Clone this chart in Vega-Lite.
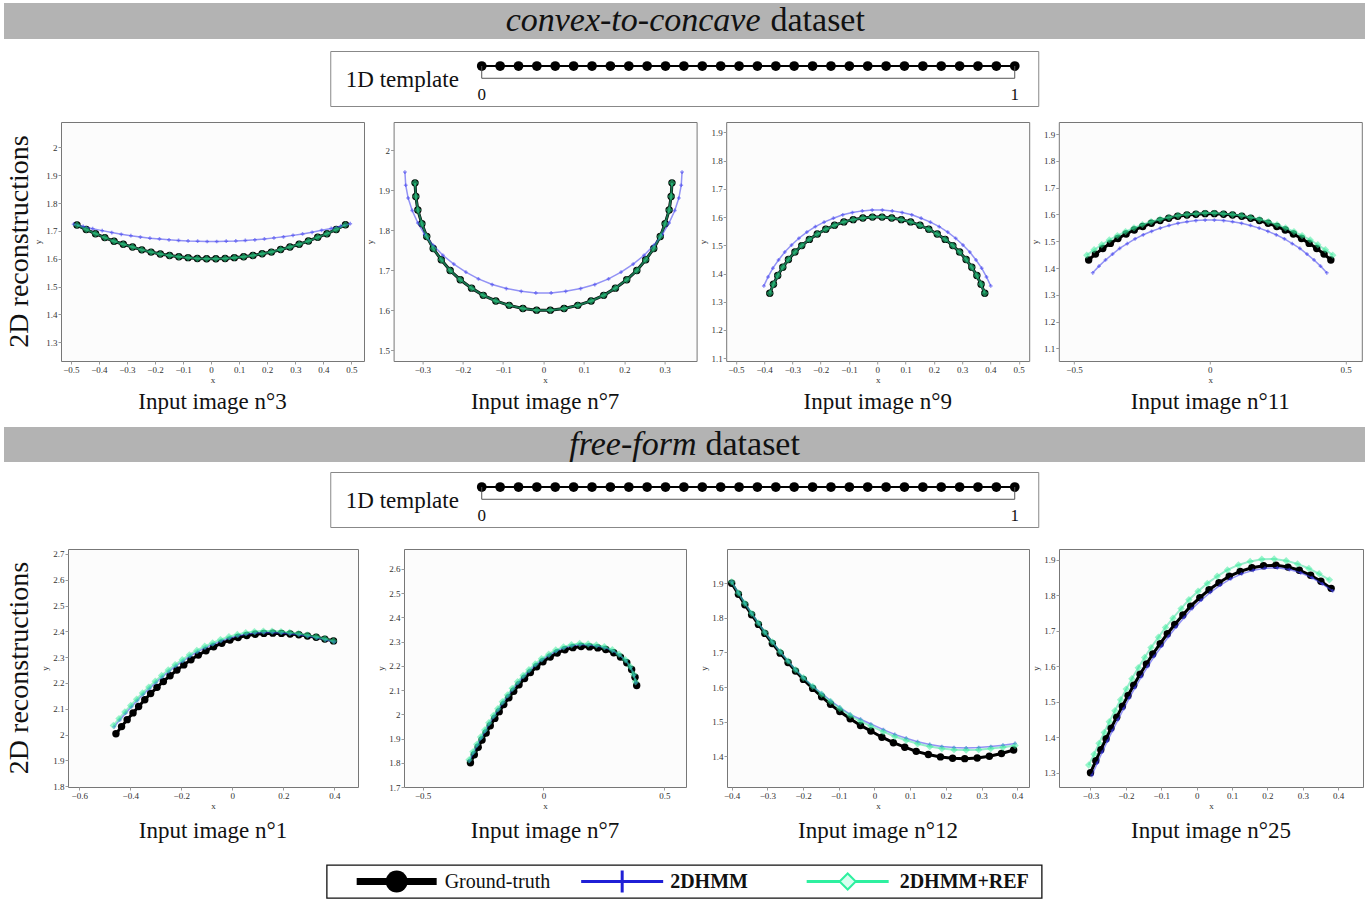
{
"$schema":"https://vega.github.io/schema/vega-lite/v6.json",
"padding":{"left":4,"top":3,"right":5,"bottom":5},
"autosize":{"type":"pad"},
"center":true,"spacing":20,
"config":{
 "font":"Liberation Serif",
 "view":{"stroke":null},
 "axis":{"labelFont":"Liberation Serif","labelFontSize":9,"labelColor":"#333","titleFont":"Liberation Serif","titleFontSize":9,"titleFontWeight":"normal","titleColor":"#333","domain":false,"tickColor":"#999","tickSize":3,"labelPadding":1,"titlePadding":0,"grid":false,"labelOverlap":false,"labelFlush":false,"format":".1~f"},
 "axisY":{"minExtent":19,"maxExtent":19},
 "axisX":{"minExtent":14,"maxExtent":14},
 "title":{"font":"Liberation Serif","fontSize":23,"fontWeight":"normal","color":"#111","orient":"bottom","anchor":"middle","frame":"group","offset":7},
 "text":{"font":"Liberation Serif","color":"#111"}
},
"datasets":{
"tpl":[{"t":0},{"t":0.0345},{"t":0.069},{"t":0.1034},{"t":0.1379},{"t":0.1724},{"t":0.2069},{"t":0.2414},{"t":0.2759},{"t":0.3103},{"t":0.3448},{"t":0.3793},{"t":0.4138},{"t":0.4483},{"t":0.4828},{"t":0.5172},{"t":0.5517},{"t":0.5862},{"t":0.6207},{"t":0.6552},{"t":0.6897},{"t":0.7241},{"t":0.7586},{"t":0.7931},{"t":0.8276},{"t":0.8621},{"t":0.8966},{"t":0.931},{"t":0.9655},{"t":1}],
"ends":[{"t":0},{"t":1}],
"A":[
{"s":"g","i":0,"x":-0.478,"y":1.721},{"s":"g","i":1,"x":-0.445,"y":1.705},{"s":"g","i":2,"x":-0.412,"y":1.690},{"s":"g","i":3,"x":-0.379,"y":1.676},{"s":"g","i":4,"x":-0.346,"y":1.663},{"s":"g","i":5,"x":-0.313,"y":1.652},{"s":"g","i":6,"x":-0.280,"y":1.642},{"s":"g","i":7,"x":-0.247,"y":1.632},{"s":"g","i":8,"x":-0.214,"y":1.624},{"s":"g","i":9,"x":-0.181,"y":1.617},{"s":"g","i":10,"x":-0.148,"y":1.612},{"s":"g","i":11,"x":-0.115,"y":1.607},{"s":"g","i":12,"x":-0.082,"y":1.604},{"s":"g","i":13,"x":-0.049,"y":1.601},{"s":"g","i":14,"x":-0.016,"y":1.600},{"s":"g","i":15,"x":0.017,"y":1.600},{"s":"g","i":16,"x":0.050,"y":1.601},{"s":"g","i":17,"x":0.083,"y":1.604},{"s":"g","i":18,"x":0.116,"y":1.607},{"s":"g","i":19,"x":0.149,"y":1.612},{"s":"g","i":20,"x":0.182,"y":1.618},{"s":"g","i":21,"x":0.215,"y":1.624},{"s":"g","i":22,"x":0.248,"y":1.633},{"s":"g","i":23,"x":0.281,"y":1.642},{"s":"g","i":24,"x":0.314,"y":1.652},{"s":"g","i":25,"x":0.347,"y":1.664},{"s":"g","i":26,"x":0.380,"y":1.677},{"s":"g","i":27,"x":0.413,"y":1.690},{"s":"g","i":28,"x":0.446,"y":1.705},{"s":"g","i":29,"x":0.479,"y":1.722},
{"s":"r","i":0,"x":-0.478,"y":1.721},{"s":"r","i":1,"x":-0.445,"y":1.705},{"s":"r","i":2,"x":-0.412,"y":1.690},{"s":"r","i":3,"x":-0.379,"y":1.676},{"s":"r","i":4,"x":-0.346,"y":1.663},{"s":"r","i":5,"x":-0.313,"y":1.652},{"s":"r","i":6,"x":-0.280,"y":1.642},{"s":"r","i":7,"x":-0.247,"y":1.632},{"s":"r","i":8,"x":-0.214,"y":1.624},{"s":"r","i":9,"x":-0.181,"y":1.617},{"s":"r","i":10,"x":-0.148,"y":1.612},{"s":"r","i":11,"x":-0.115,"y":1.607},{"s":"r","i":12,"x":-0.082,"y":1.604},{"s":"r","i":13,"x":-0.049,"y":1.601},{"s":"r","i":14,"x":-0.016,"y":1.600},{"s":"r","i":15,"x":0.017,"y":1.600},{"s":"r","i":16,"x":0.050,"y":1.601},{"s":"r","i":17,"x":0.083,"y":1.604},{"s":"r","i":18,"x":0.116,"y":1.607},{"s":"r","i":19,"x":0.149,"y":1.612},{"s":"r","i":20,"x":0.182,"y":1.618},{"s":"r","i":21,"x":0.215,"y":1.624},{"s":"r","i":22,"x":0.248,"y":1.633},{"s":"r","i":23,"x":0.281,"y":1.642},{"s":"r","i":24,"x":0.314,"y":1.652},{"s":"r","i":25,"x":0.347,"y":1.664},{"s":"r","i":26,"x":0.380,"y":1.677},{"s":"r","i":27,"x":0.413,"y":1.690},{"s":"r","i":28,"x":0.446,"y":1.705},{"s":"r","i":29,"x":0.479,"y":1.722},
{"s":"h","i":0,"x":-0.490,"y":1.724},{"s":"h","i":1,"x":-0.456,"y":1.716},{"s":"h","i":2,"x":-0.422,"y":1.708},{"s":"h","i":3,"x":-0.388,"y":1.701},{"s":"h","i":4,"x":-0.354,"y":1.694},{"s":"h","i":5,"x":-0.320,"y":1.688},{"s":"h","i":6,"x":-0.286,"y":1.683},{"s":"h","i":7,"x":-0.252,"y":1.678},{"s":"h","i":8,"x":-0.218,"y":1.674},{"s":"h","i":9,"x":-0.184,"y":1.671},{"s":"h","i":10,"x":-0.150,"y":1.668},{"s":"h","i":11,"x":-0.116,"y":1.666},{"s":"h","i":12,"x":-0.082,"y":1.664},{"s":"h","i":13,"x":-0.048,"y":1.663},{"s":"h","i":14,"x":-0.014,"y":1.662},{"s":"h","i":15,"x":0.020,"y":1.662},{"s":"h","i":16,"x":0.054,"y":1.663},{"s":"h","i":17,"x":0.088,"y":1.664},{"s":"h","i":18,"x":0.122,"y":1.666},{"s":"h","i":19,"x":0.156,"y":1.668},{"s":"h","i":20,"x":0.190,"y":1.671},{"s":"h","i":21,"x":0.224,"y":1.675},{"s":"h","i":22,"x":0.258,"y":1.679},{"s":"h","i":23,"x":0.292,"y":1.684},{"s":"h","i":24,"x":0.326,"y":1.689},{"s":"h","i":25,"x":0.360,"y":1.695},{"s":"h","i":26,"x":0.394,"y":1.702},{"s":"h","i":27,"x":0.428,"y":1.709},{"s":"h","i":28,"x":0.462,"y":1.717},{"s":"h","i":29,"x":0.496,"y":1.726}
],
"B":[
{"s":"g","i":0,"x":-0.318,"y":1.918},{"s":"g","i":1,"x":-0.316,"y":1.884},{"s":"g","i":2,"x":-0.311,"y":1.850},{"s":"g","i":3,"x":-0.301,"y":1.816},{"s":"g","i":4,"x":-0.289,"y":1.784},{"s":"g","i":5,"x":-0.273,"y":1.754},{"s":"g","i":6,"x":-0.253,"y":1.726},{"s":"g","i":7,"x":-0.231,"y":1.699},{"s":"g","i":8,"x":-0.206,"y":1.676},{"s":"g","i":9,"x":-0.178,"y":1.655},{"s":"g","i":10,"x":-0.149,"y":1.637},{"s":"g","i":11,"x":-0.118,"y":1.623},{"s":"g","i":12,"x":-0.085,"y":1.612},{"s":"g","i":13,"x":-0.051,"y":1.604},{"s":"g","i":14,"x":-0.017,"y":1.600},{"s":"g","i":15,"x":0.017,"y":1.600},{"s":"g","i":16,"x":0.051,"y":1.604},{"s":"g","i":17,"x":0.085,"y":1.612},{"s":"g","i":18,"x":0.118,"y":1.623},{"s":"g","i":19,"x":0.149,"y":1.637},{"s":"g","i":20,"x":0.178,"y":1.655},{"s":"g","i":21,"x":0.206,"y":1.676},{"s":"g","i":22,"x":0.231,"y":1.699},{"s":"g","i":23,"x":0.253,"y":1.726},{"s":"g","i":24,"x":0.273,"y":1.754},{"s":"g","i":25,"x":0.289,"y":1.784},{"s":"g","i":26,"x":0.301,"y":1.816},{"s":"g","i":27,"x":0.311,"y":1.850},{"s":"g","i":28,"x":0.316,"y":1.884},{"s":"g","i":29,"x":0.318,"y":1.918},
{"s":"r","i":0,"x":-0.318,"y":1.918},{"s":"r","i":1,"x":-0.316,"y":1.884},{"s":"r","i":2,"x":-0.311,"y":1.850},{"s":"r","i":3,"x":-0.301,"y":1.816},{"s":"r","i":4,"x":-0.289,"y":1.784},{"s":"r","i":5,"x":-0.273,"y":1.754},{"s":"r","i":6,"x":-0.253,"y":1.726},{"s":"r","i":7,"x":-0.231,"y":1.699},{"s":"r","i":8,"x":-0.206,"y":1.676},{"s":"r","i":9,"x":-0.178,"y":1.655},{"s":"r","i":10,"x":-0.149,"y":1.637},{"s":"r","i":11,"x":-0.118,"y":1.623},{"s":"r","i":12,"x":-0.085,"y":1.612},{"s":"r","i":13,"x":-0.051,"y":1.604},{"s":"r","i":14,"x":-0.017,"y":1.600},{"s":"r","i":15,"x":0.017,"y":1.600},{"s":"r","i":16,"x":0.051,"y":1.604},{"s":"r","i":17,"x":0.085,"y":1.612},{"s":"r","i":18,"x":0.118,"y":1.623},{"s":"r","i":19,"x":0.149,"y":1.637},{"s":"r","i":20,"x":0.178,"y":1.655},{"s":"r","i":21,"x":0.206,"y":1.676},{"s":"r","i":22,"x":0.231,"y":1.699},{"s":"r","i":23,"x":0.253,"y":1.726},{"s":"r","i":24,"x":0.273,"y":1.754},{"s":"r","i":25,"x":0.289,"y":1.784},{"s":"r","i":26,"x":0.301,"y":1.816},{"s":"r","i":27,"x":0.311,"y":1.850},{"s":"r","i":28,"x":0.316,"y":1.884},{"s":"r","i":29,"x":0.318,"y":1.918},
{"s":"h","i":0,"x":-0.343,"y":1.945},{"s":"h","i":1,"x":-0.341,"y":1.912},{"s":"h","i":2,"x":-0.335,"y":1.880},{"s":"h","i":3,"x":-0.325,"y":1.849},{"s":"h","i":4,"x":-0.311,"y":1.818},{"s":"h","i":5,"x":-0.294,"y":1.789},{"s":"h","i":6,"x":-0.273,"y":1.762},{"s":"h","i":7,"x":-0.249,"y":1.737},{"s":"h","i":8,"x":-0.222,"y":1.715},{"s":"h","i":9,"x":-0.192,"y":1.695},{"s":"h","i":10,"x":-0.161,"y":1.678},{"s":"h","i":11,"x":-0.127,"y":1.664},{"s":"h","i":12,"x":-0.092,"y":1.654},{"s":"h","i":13,"x":-0.055,"y":1.647},{"s":"h","i":14,"x":-0.019,"y":1.643},{"s":"h","i":15,"x":0.019,"y":1.643},{"s":"h","i":16,"x":0.055,"y":1.647},{"s":"h","i":17,"x":0.092,"y":1.654},{"s":"h","i":18,"x":0.127,"y":1.664},{"s":"h","i":19,"x":0.161,"y":1.678},{"s":"h","i":20,"x":0.192,"y":1.695},{"s":"h","i":21,"x":0.222,"y":1.715},{"s":"h","i":22,"x":0.249,"y":1.737},{"s":"h","i":23,"x":0.273,"y":1.762},{"s":"h","i":24,"x":0.294,"y":1.789},{"s":"h","i":25,"x":0.311,"y":1.818},{"s":"h","i":26,"x":0.325,"y":1.849},{"s":"h","i":27,"x":0.335,"y":1.880},{"s":"h","i":28,"x":0.341,"y":1.912},{"s":"h","i":29,"x":0.343,"y":1.945}
],
"C":[
{"s":"g","i":0,"x":-0.380,"y":1.330},{"s":"g","i":1,"x":-0.367,"y":1.362},{"s":"g","i":2,"x":-0.352,"y":1.393},{"s":"g","i":3,"x":-0.334,"y":1.422},{"s":"g","i":4,"x":-0.314,"y":1.450},{"s":"g","i":5,"x":-0.291,"y":1.476},{"s":"g","i":6,"x":-0.267,"y":1.499},{"s":"g","i":7,"x":-0.240,"y":1.521},{"s":"g","i":8,"x":-0.212,"y":1.540},{"s":"g","i":9,"x":-0.182,"y":1.557},{"s":"g","i":10,"x":-0.151,"y":1.571},{"s":"g","i":11,"x":-0.118,"y":1.583},{"s":"g","i":12,"x":-0.085,"y":1.591},{"s":"g","i":13,"x":-0.051,"y":1.597},{"s":"g","i":14,"x":-0.017,"y":1.600},{"s":"g","i":15,"x":0.017,"y":1.600},{"s":"g","i":16,"x":0.051,"y":1.597},{"s":"g","i":17,"x":0.085,"y":1.591},{"s":"g","i":18,"x":0.118,"y":1.583},{"s":"g","i":19,"x":0.151,"y":1.571},{"s":"g","i":20,"x":0.182,"y":1.557},{"s":"g","i":21,"x":0.212,"y":1.540},{"s":"g","i":22,"x":0.240,"y":1.521},{"s":"g","i":23,"x":0.267,"y":1.499},{"s":"g","i":24,"x":0.291,"y":1.476},{"s":"g","i":25,"x":0.314,"y":1.450},{"s":"g","i":26,"x":0.334,"y":1.422},{"s":"g","i":27,"x":0.352,"y":1.393},{"s":"g","i":28,"x":0.367,"y":1.362},{"s":"g","i":29,"x":0.380,"y":1.330},
{"s":"r","i":0,"x":-0.380,"y":1.330},{"s":"r","i":1,"x":-0.367,"y":1.362},{"s":"r","i":2,"x":-0.352,"y":1.393},{"s":"r","i":3,"x":-0.334,"y":1.422},{"s":"r","i":4,"x":-0.314,"y":1.450},{"s":"r","i":5,"x":-0.291,"y":1.476},{"s":"r","i":6,"x":-0.267,"y":1.499},{"s":"r","i":7,"x":-0.240,"y":1.521},{"s":"r","i":8,"x":-0.212,"y":1.540},{"s":"r","i":9,"x":-0.182,"y":1.557},{"s":"r","i":10,"x":-0.151,"y":1.571},{"s":"r","i":11,"x":-0.118,"y":1.583},{"s":"r","i":12,"x":-0.085,"y":1.591},{"s":"r","i":13,"x":-0.051,"y":1.597},{"s":"r","i":14,"x":-0.017,"y":1.600},{"s":"r","i":15,"x":0.017,"y":1.600},{"s":"r","i":16,"x":0.051,"y":1.597},{"s":"r","i":17,"x":0.085,"y":1.591},{"s":"r","i":18,"x":0.118,"y":1.583},{"s":"r","i":19,"x":0.151,"y":1.571},{"s":"r","i":20,"x":0.182,"y":1.557},{"s":"r","i":21,"x":0.212,"y":1.540},{"s":"r","i":22,"x":0.240,"y":1.521},{"s":"r","i":23,"x":0.267,"y":1.499},{"s":"r","i":24,"x":0.291,"y":1.476},{"s":"r","i":25,"x":0.314,"y":1.450},{"s":"r","i":26,"x":0.334,"y":1.422},{"s":"r","i":27,"x":0.352,"y":1.393},{"s":"r","i":28,"x":0.367,"y":1.362},{"s":"r","i":29,"x":0.380,"y":1.330},
{"s":"h","i":0,"x":-0.401,"y":1.356},{"s":"h","i":1,"x":-0.386,"y":1.388},{"s":"h","i":2,"x":-0.369,"y":1.419},{"s":"h","i":3,"x":-0.349,"y":1.448},{"s":"h","i":4,"x":-0.327,"y":1.476},{"s":"h","i":5,"x":-0.303,"y":1.501},{"s":"h","i":6,"x":-0.277,"y":1.525},{"s":"h","i":7,"x":-0.249,"y":1.547},{"s":"h","i":8,"x":-0.219,"y":1.566},{"s":"h","i":9,"x":-0.188,"y":1.582},{"s":"h","i":10,"x":-0.155,"y":1.596},{"s":"h","i":11,"x":-0.122,"y":1.608},{"s":"h","i":12,"x":-0.088,"y":1.616},{"s":"h","i":13,"x":-0.053,"y":1.622},{"s":"h","i":14,"x":-0.018,"y":1.625},{"s":"h","i":15,"x":0.018,"y":1.625},{"s":"h","i":16,"x":0.053,"y":1.622},{"s":"h","i":17,"x":0.088,"y":1.616},{"s":"h","i":18,"x":0.122,"y":1.608},{"s":"h","i":19,"x":0.155,"y":1.596},{"s":"h","i":20,"x":0.188,"y":1.582},{"s":"h","i":21,"x":0.219,"y":1.566},{"s":"h","i":22,"x":0.249,"y":1.547},{"s":"h","i":23,"x":0.277,"y":1.525},{"s":"h","i":24,"x":0.303,"y":1.501},{"s":"h","i":25,"x":0.327,"y":1.476},{"s":"h","i":26,"x":0.349,"y":1.448},{"s":"h","i":27,"x":0.369,"y":1.419},{"s":"h","i":28,"x":0.386,"y":1.388},{"s":"h","i":29,"x":0.401,"y":1.356}
],
"D":[
{"s":"g","i":0,"x":-0.446,"y":1.430},{"s":"g","i":1,"x":-0.421,"y":1.452},{"s":"g","i":2,"x":-0.394,"y":1.473},{"s":"g","i":3,"x":-0.366,"y":1.492},{"s":"g","i":4,"x":-0.338,"y":1.510},{"s":"g","i":5,"x":-0.308,"y":1.527},{"s":"g","i":6,"x":-0.278,"y":1.542},{"s":"g","i":7,"x":-0.247,"y":1.555},{"s":"g","i":8,"x":-0.215,"y":1.567},{"s":"g","i":9,"x":-0.183,"y":1.577},{"s":"g","i":10,"x":-0.151,"y":1.586},{"s":"g","i":11,"x":-0.118,"y":1.593},{"s":"g","i":12,"x":-0.084,"y":1.598},{"s":"g","i":13,"x":-0.051,"y":1.601},{"s":"g","i":14,"x":-0.017,"y":1.603},{"s":"g","i":15,"x":0.017,"y":1.603},{"s":"g","i":16,"x":0.051,"y":1.601},{"s":"g","i":17,"x":0.084,"y":1.598},{"s":"g","i":18,"x":0.118,"y":1.593},{"s":"g","i":19,"x":0.151,"y":1.586},{"s":"g","i":20,"x":0.183,"y":1.577},{"s":"g","i":21,"x":0.215,"y":1.567},{"s":"g","i":22,"x":0.247,"y":1.555},{"s":"g","i":23,"x":0.278,"y":1.542},{"s":"g","i":24,"x":0.308,"y":1.527},{"s":"g","i":25,"x":0.338,"y":1.510},{"s":"g","i":26,"x":0.366,"y":1.492},{"s":"g","i":27,"x":0.394,"y":1.473},{"s":"g","i":28,"x":0.421,"y":1.452},{"s":"g","i":29,"x":0.446,"y":1.430},
{"s":"r","i":0,"x":-0.453,"y":1.448},{"s":"r","i":1,"x":-0.426,"y":1.468},{"s":"r","i":2,"x":-0.398,"y":1.487},{"s":"r","i":3,"x":-0.370,"y":1.505},{"s":"r","i":4,"x":-0.340,"y":1.521},{"s":"r","i":5,"x":-0.310,"y":1.536},{"s":"r","i":6,"x":-0.279,"y":1.550},{"s":"r","i":7,"x":-0.248,"y":1.562},{"s":"r","i":8,"x":-0.216,"y":1.573},{"s":"r","i":9,"x":-0.183,"y":1.582},{"s":"r","i":10,"x":-0.150,"y":1.589},{"s":"r","i":11,"x":-0.117,"y":1.596},{"s":"r","i":12,"x":-0.084,"y":1.600},{"s":"r","i":13,"x":-0.050,"y":1.603},{"s":"r","i":14,"x":-0.017,"y":1.605},{"s":"r","i":15,"x":0.017,"y":1.605},{"s":"r","i":16,"x":0.050,"y":1.603},{"s":"r","i":17,"x":0.084,"y":1.600},{"s":"r","i":18,"x":0.117,"y":1.596},{"s":"r","i":19,"x":0.150,"y":1.589},{"s":"r","i":20,"x":0.183,"y":1.582},{"s":"r","i":21,"x":0.216,"y":1.573},{"s":"r","i":22,"x":0.248,"y":1.562},{"s":"r","i":23,"x":0.279,"y":1.550},{"s":"r","i":24,"x":0.310,"y":1.536},{"s":"r","i":25,"x":0.340,"y":1.521},{"s":"r","i":26,"x":0.370,"y":1.505},{"s":"r","i":27,"x":0.398,"y":1.487},{"s":"r","i":28,"x":0.426,"y":1.468},{"s":"r","i":29,"x":0.453,"y":1.448},
{"s":"h","i":0,"x":-0.431,"y":1.382},{"s":"h","i":1,"x":-0.408,"y":1.407},{"s":"h","i":2,"x":-0.384,"y":1.430},{"s":"h","i":3,"x":-0.358,"y":1.452},{"s":"h","i":4,"x":-0.332,"y":1.473},{"s":"h","i":5,"x":-0.304,"y":1.491},{"s":"h","i":6,"x":-0.275,"y":1.509},{"s":"h","i":7,"x":-0.245,"y":1.524},{"s":"h","i":8,"x":-0.214,"y":1.537},{"s":"h","i":9,"x":-0.182,"y":1.549},{"s":"h","i":10,"x":-0.150,"y":1.559},{"s":"h","i":11,"x":-0.117,"y":1.567},{"s":"h","i":12,"x":-0.084,"y":1.573},{"s":"h","i":13,"x":-0.051,"y":1.577},{"s":"h","i":14,"x":-0.017,"y":1.579},{"s":"h","i":15,"x":0.017,"y":1.579},{"s":"h","i":16,"x":0.051,"y":1.577},{"s":"h","i":17,"x":0.084,"y":1.573},{"s":"h","i":18,"x":0.117,"y":1.567},{"s":"h","i":19,"x":0.150,"y":1.559},{"s":"h","i":20,"x":0.182,"y":1.549},{"s":"h","i":21,"x":0.214,"y":1.537},{"s":"h","i":22,"x":0.245,"y":1.524},{"s":"h","i":23,"x":0.275,"y":1.509},{"s":"h","i":24,"x":0.304,"y":1.491},{"s":"h","i":25,"x":0.332,"y":1.473},{"s":"h","i":26,"x":0.358,"y":1.452},{"s":"h","i":27,"x":0.384,"y":1.430},{"s":"h","i":28,"x":0.408,"y":1.407},{"s":"h","i":29,"x":0.431,"y":1.382}
],
"E":[
{"s":"g","i":0,"x":-0.456,"y":2.003},{"s":"g","i":1,"x":-0.434,"y":2.031},{"s":"g","i":2,"x":-0.412,"y":2.058},{"s":"g","i":3,"x":-0.389,"y":2.084},{"s":"g","i":4,"x":-0.367,"y":2.109},{"s":"g","i":5,"x":-0.343,"y":2.135},{"s":"g","i":6,"x":-0.320,"y":2.159},{"s":"g","i":7,"x":-0.295,"y":2.183},{"s":"g","i":8,"x":-0.270,"y":2.206},{"s":"g","i":9,"x":-0.244,"y":2.228},{"s":"g","i":10,"x":-0.217,"y":2.250},{"s":"g","i":11,"x":-0.190,"y":2.270},{"s":"g","i":12,"x":-0.162,"y":2.290},{"s":"g","i":13,"x":-0.133,"y":2.308},{"s":"g","i":14,"x":-0.103,"y":2.325},{"s":"g","i":15,"x":-0.073,"y":2.340},{"s":"g","i":16,"x":-0.041,"y":2.354},{"s":"g","i":17,"x":-0.009,"y":2.366},{"s":"g","i":18,"x":0.023,"y":2.376},{"s":"g","i":19,"x":0.057,"y":2.384},{"s":"g","i":20,"x":0.090,"y":2.389},{"s":"g","i":21,"x":0.124,"y":2.392},{"s":"g","i":22,"x":0.159,"y":2.393},{"s":"g","i":23,"x":0.193,"y":2.392},{"s":"g","i":24,"x":0.227,"y":2.390},{"s":"g","i":25,"x":0.261,"y":2.387},{"s":"g","i":26,"x":0.295,"y":2.382},{"s":"g","i":27,"x":0.329,"y":2.377},{"s":"g","i":28,"x":0.363,"y":2.370},{"s":"g","i":29,"x":0.397,"y":2.363},
{"s":"r","i":0,"x":-0.466,"y":2.035},{"s":"r","i":1,"x":-0.444,"y":2.062},{"s":"r","i":2,"x":-0.421,"y":2.088},{"s":"r","i":3,"x":-0.398,"y":2.113},{"s":"r","i":4,"x":-0.375,"y":2.137},{"s":"r","i":5,"x":-0.352,"y":2.161},{"s":"r","i":6,"x":-0.327,"y":2.184},{"s":"r","i":7,"x":-0.302,"y":2.207},{"s":"r","i":8,"x":-0.277,"y":2.229},{"s":"r","i":9,"x":-0.251,"y":2.250},{"s":"r","i":10,"x":-0.224,"y":2.271},{"s":"r","i":11,"x":-0.196,"y":2.290},{"s":"r","i":12,"x":-0.168,"y":2.309},{"s":"r","i":13,"x":-0.139,"y":2.326},{"s":"r","i":14,"x":-0.108,"y":2.342},{"s":"r","i":15,"x":-0.077,"y":2.355},{"s":"r","i":16,"x":-0.046,"y":2.368},{"s":"r","i":17,"x":-0.013,"y":2.379},{"s":"r","i":18,"x":0.020,"y":2.388},{"s":"r","i":19,"x":0.053,"y":2.395},{"s":"r","i":20,"x":0.087,"y":2.399},{"s":"r","i":21,"x":0.122,"y":2.401},{"s":"r","i":22,"x":0.156,"y":2.401},{"s":"r","i":23,"x":0.191,"y":2.399},{"s":"r","i":24,"x":0.225,"y":2.396},{"s":"r","i":25,"x":0.260,"y":2.392},{"s":"r","i":26,"x":0.294,"y":2.386},{"s":"r","i":27,"x":0.329,"y":2.379},{"s":"r","i":28,"x":0.363,"y":2.371},{"s":"r","i":29,"x":0.397,"y":2.363},
{"s":"h","i":0,"x":-0.463,"y":2.030},{"s":"h","i":1,"x":-0.441,"y":2.057},{"s":"h","i":2,"x":-0.418,"y":2.083},{"s":"h","i":3,"x":-0.395,"y":2.108},{"s":"h","i":4,"x":-0.372,"y":2.132},{"s":"h","i":5,"x":-0.349,"y":2.156},{"s":"h","i":6,"x":-0.324,"y":2.179},{"s":"h","i":7,"x":-0.299,"y":2.202},{"s":"h","i":8,"x":-0.274,"y":2.224},{"s":"h","i":9,"x":-0.248,"y":2.245},{"s":"h","i":10,"x":-0.221,"y":2.266},{"s":"h","i":11,"x":-0.193,"y":2.285},{"s":"h","i":12,"x":-0.165,"y":2.304},{"s":"h","i":13,"x":-0.136,"y":2.321},{"s":"h","i":14,"x":-0.105,"y":2.337},{"s":"h","i":15,"x":-0.074,"y":2.350},{"s":"h","i":16,"x":-0.043,"y":2.363},{"s":"h","i":17,"x":-0.010,"y":2.374},{"s":"h","i":18,"x":0.023,"y":2.383},{"s":"h","i":19,"x":0.056,"y":2.390},{"s":"h","i":20,"x":0.090,"y":2.394},{"s":"h","i":21,"x":0.125,"y":2.396},{"s":"h","i":22,"x":0.159,"y":2.396},{"s":"h","i":23,"x":0.194,"y":2.394},{"s":"h","i":24,"x":0.228,"y":2.391},{"s":"h","i":25,"x":0.263,"y":2.387},{"s":"h","i":26,"x":0.297,"y":2.381},{"s":"h","i":27,"x":0.332,"y":2.375},{"s":"h","i":28,"x":0.366,"y":2.367},{"s":"h","i":29,"x":0.400,"y":2.359}
],
"F":[
{"s":"g","i":0,"x":-0.302,"y":1.800},{"s":"g","i":1,"x":-0.286,"y":1.833},{"s":"g","i":2,"x":-0.270,"y":1.864},{"s":"g","i":3,"x":-0.254,"y":1.894},{"s":"g","i":4,"x":-0.237,"y":1.923},{"s":"g","i":5,"x":-0.220,"y":1.953},{"s":"g","i":6,"x":-0.201,"y":1.983},{"s":"g","i":7,"x":-0.183,"y":2.011},{"s":"g","i":8,"x":-0.164,"y":2.040},{"s":"g","i":9,"x":-0.143,"y":2.068},{"s":"g","i":10,"x":-0.123,"y":2.095},{"s":"g","i":11,"x":-0.101,"y":2.122},{"s":"g","i":12,"x":-0.078,"y":2.148},{"s":"g","i":13,"x":-0.054,"y":2.172},{"s":"g","i":14,"x":-0.028,"y":2.196},{"s":"g","i":15,"x":-0.002,"y":2.217},{"s":"g","i":16,"x":0.028,"y":2.236},{"s":"g","i":17,"x":0.057,"y":2.253},{"s":"g","i":18,"x":0.089,"y":2.266},{"s":"g","i":19,"x":0.122,"y":2.275},{"s":"g","i":20,"x":0.156,"y":2.280},{"s":"g","i":21,"x":0.191,"y":2.278},{"s":"g","i":22,"x":0.225,"y":2.274},{"s":"g","i":23,"x":0.258,"y":2.267},{"s":"g","i":24,"x":0.291,"y":2.254},{"s":"g","i":25,"x":0.319,"y":2.236},{"s":"g","i":26,"x":0.345,"y":2.213},{"s":"g","i":27,"x":0.365,"y":2.185},{"s":"g","i":28,"x":0.379,"y":2.153},{"s":"g","i":29,"x":0.386,"y":2.119},
{"s":"r","i":0,"x":-0.308,"y":1.812},{"s":"r","i":1,"x":-0.292,"y":1.845},{"s":"r","i":2,"x":-0.276,"y":1.876},{"s":"r","i":3,"x":-0.260,"y":1.906},{"s":"r","i":4,"x":-0.243,"y":1.935},{"s":"r","i":5,"x":-0.226,"y":1.965},{"s":"r","i":6,"x":-0.207,"y":1.995},{"s":"r","i":7,"x":-0.189,"y":2.023},{"s":"r","i":8,"x":-0.170,"y":2.052},{"s":"r","i":9,"x":-0.149,"y":2.080},{"s":"r","i":10,"x":-0.129,"y":2.107},{"s":"r","i":11,"x":-0.107,"y":2.134},{"s":"r","i":12,"x":-0.084,"y":2.160},{"s":"r","i":13,"x":-0.060,"y":2.184},{"s":"r","i":14,"x":-0.034,"y":2.208},{"s":"r","i":15,"x":-0.008,"y":2.229},{"s":"r","i":16,"x":0.022,"y":2.248},{"s":"r","i":17,"x":0.051,"y":2.265},{"s":"r","i":18,"x":0.083,"y":2.278},{"s":"r","i":19,"x":0.116,"y":2.287},{"s":"r","i":20,"x":0.150,"y":2.292},{"s":"r","i":21,"x":0.185,"y":2.290},{"s":"r","i":22,"x":0.219,"y":2.286},{"s":"r","i":23,"x":0.252,"y":2.279},{"s":"r","i":24,"x":0.285,"y":2.266},{"s":"r","i":25,"x":0.313,"y":2.248},{"s":"r","i":26,"x":0.339,"y":2.225},{"s":"r","i":27,"x":0.359,"y":2.197},{"s":"r","i":28,"x":0.373,"y":2.165},{"s":"r","i":29,"x":0.381,"y":2.134},
{"s":"h","i":0,"x":-0.306,"y":1.808},{"s":"h","i":1,"x":-0.290,"y":1.841},{"s":"h","i":2,"x":-0.274,"y":1.872},{"s":"h","i":3,"x":-0.258,"y":1.902},{"s":"h","i":4,"x":-0.241,"y":1.931},{"s":"h","i":5,"x":-0.224,"y":1.961},{"s":"h","i":6,"x":-0.205,"y":1.991},{"s":"h","i":7,"x":-0.187,"y":2.019},{"s":"h","i":8,"x":-0.168,"y":2.048},{"s":"h","i":9,"x":-0.147,"y":2.076},{"s":"h","i":10,"x":-0.127,"y":2.103},{"s":"h","i":11,"x":-0.105,"y":2.130},{"s":"h","i":12,"x":-0.082,"y":2.156},{"s":"h","i":13,"x":-0.058,"y":2.180},{"s":"h","i":14,"x":-0.032,"y":2.204},{"s":"h","i":15,"x":-0.006,"y":2.225},{"s":"h","i":16,"x":0.024,"y":2.244},{"s":"h","i":17,"x":0.053,"y":2.261},{"s":"h","i":18,"x":0.085,"y":2.274},{"s":"h","i":19,"x":0.118,"y":2.283},{"s":"h","i":20,"x":0.152,"y":2.288},{"s":"h","i":21,"x":0.187,"y":2.286},{"s":"h","i":22,"x":0.221,"y":2.282},{"s":"h","i":23,"x":0.254,"y":2.275},{"s":"h","i":24,"x":0.287,"y":2.262},{"s":"h","i":25,"x":0.315,"y":2.244},{"s":"h","i":26,"x":0.341,"y":2.221},{"s":"h","i":27,"x":0.361,"y":2.193},{"s":"h","i":28,"x":0.375,"y":2.161},{"s":"h","i":29,"x":0.383,"y":2.130}
],
"G":[
{"s":"g","i":0,"x":-0.400,"y":1.900},{"s":"g","i":1,"x":-0.381,"y":1.868},{"s":"g","i":2,"x":-0.363,"y":1.838},{"s":"g","i":3,"x":-0.344,"y":1.809},{"s":"g","i":4,"x":-0.325,"y":1.781},{"s":"g","i":5,"x":-0.307,"y":1.755},{"s":"g","i":6,"x":-0.286,"y":1.726},{"s":"g","i":7,"x":-0.264,"y":1.698},{"s":"g","i":8,"x":-0.242,"y":1.671},{"s":"g","i":9,"x":-0.221,"y":1.646},{"s":"g","i":10,"x":-0.199,"y":1.622},{"s":"g","i":11,"x":-0.173,"y":1.596},{"s":"g","i":12,"x":-0.148,"y":1.572},{"s":"g","i":13,"x":-0.123,"y":1.550},{"s":"g","i":14,"x":-0.097,"y":1.529},{"s":"g","i":15,"x":-0.068,"y":1.508},{"s":"g","i":16,"x":-0.039,"y":1.489},{"s":"g","i":17,"x":-0.010,"y":1.473},{"s":"g","i":18,"x":0.021,"y":1.455},{"s":"g","i":19,"x":0.053,"y":1.439},{"s":"g","i":20,"x":0.085,"y":1.426},{"s":"g","i":21,"x":0.117,"y":1.414},{"s":"g","i":22,"x":0.151,"y":1.405},{"s":"g","i":23,"x":0.185,"y":1.398},{"s":"g","i":24,"x":0.219,"y":1.394},{"s":"g","i":25,"x":0.253,"y":1.393},{"s":"g","i":26,"x":0.288,"y":1.395},{"s":"g","i":27,"x":0.322,"y":1.400},{"s":"g","i":28,"x":0.356,"y":1.408},{"s":"g","i":29,"x":0.390,"y":1.418},
{"s":"r","i":0,"x":-0.400,"y":1.904},{"s":"r","i":1,"x":-0.381,"y":1.872},{"s":"r","i":2,"x":-0.363,"y":1.842},{"s":"r","i":3,"x":-0.344,"y":1.813},{"s":"r","i":4,"x":-0.325,"y":1.785},{"s":"r","i":5,"x":-0.307,"y":1.758},{"s":"r","i":6,"x":-0.286,"y":1.730},{"s":"r","i":7,"x":-0.264,"y":1.702},{"s":"r","i":8,"x":-0.242,"y":1.675},{"s":"r","i":9,"x":-0.221,"y":1.650},{"s":"r","i":10,"x":-0.199,"y":1.627},{"s":"r","i":11,"x":-0.173,"y":1.602},{"s":"r","i":12,"x":-0.148,"y":1.579},{"s":"r","i":13,"x":-0.123,"y":1.558},{"s":"r","i":14,"x":-0.097,"y":1.538},{"s":"r","i":15,"x":-0.068,"y":1.518},{"s":"r","i":16,"x":-0.039,"y":1.501},{"s":"r","i":17,"x":-0.010,"y":1.487},{"s":"r","i":18,"x":0.025,"y":1.471},{"s":"r","i":19,"x":0.057,"y":1.457},{"s":"r","i":20,"x":0.089,"y":1.446},{"s":"r","i":21,"x":0.121,"y":1.436},{"s":"r","i":22,"x":0.155,"y":1.428},{"s":"r","i":23,"x":0.189,"y":1.422},{"s":"r","i":24,"x":0.223,"y":1.419},{"s":"r","i":25,"x":0.257,"y":1.418},{"s":"r","i":26,"x":0.292,"y":1.419},{"s":"r","i":27,"x":0.326,"y":1.422},{"s":"r","i":28,"x":0.360,"y":1.426},{"s":"r","i":29,"x":0.394,"y":1.431},
{"s":"h","i":0,"x":-0.400,"y":1.904},{"s":"h","i":1,"x":-0.381,"y":1.872},{"s":"h","i":2,"x":-0.363,"y":1.842},{"s":"h","i":3,"x":-0.344,"y":1.813},{"s":"h","i":4,"x":-0.325,"y":1.785},{"s":"h","i":5,"x":-0.307,"y":1.758},{"s":"h","i":6,"x":-0.286,"y":1.730},{"s":"h","i":7,"x":-0.264,"y":1.702},{"s":"h","i":8,"x":-0.242,"y":1.675},{"s":"h","i":9,"x":-0.221,"y":1.650},{"s":"h","i":10,"x":-0.199,"y":1.627},{"s":"h","i":11,"x":-0.173,"y":1.602},{"s":"h","i":12,"x":-0.148,"y":1.582},{"s":"h","i":13,"x":-0.123,"y":1.561},{"s":"h","i":14,"x":-0.097,"y":1.541},{"s":"h","i":15,"x":-0.068,"y":1.521},{"s":"h","i":16,"x":-0.039,"y":1.507},{"s":"h","i":17,"x":-0.010,"y":1.493},{"s":"h","i":18,"x":0.025,"y":1.477},{"s":"h","i":19,"x":0.057,"y":1.463},{"s":"h","i":20,"x":0.089,"y":1.452},{"s":"h","i":21,"x":0.121,"y":1.442},{"s":"h","i":22,"x":0.155,"y":1.434},{"s":"h","i":23,"x":0.189,"y":1.428},{"s":"h","i":24,"x":0.223,"y":1.425},{"s":"h","i":25,"x":0.257,"y":1.424},{"s":"h","i":26,"x":0.292,"y":1.425},{"s":"h","i":27,"x":0.326,"y":1.428},{"s":"h","i":28,"x":0.360,"y":1.432},{"s":"h","i":29,"x":0.394,"y":1.437}
],
"H":[
{"s":"g","i":0,"x":-0.300,"y":1.300},{"s":"g","i":1,"x":-0.285,"y":1.334},{"s":"g","i":2,"x":-0.271,"y":1.365},{"s":"g","i":3,"x":-0.256,"y":1.396},{"s":"g","i":4,"x":-0.242,"y":1.426},{"s":"g","i":5,"x":-0.226,"y":1.457},{"s":"g","i":6,"x":-0.210,"y":1.488},{"s":"g","i":7,"x":-0.194,"y":1.518},{"s":"g","i":8,"x":-0.178,"y":1.547},{"s":"g","i":9,"x":-0.160,"y":1.578},{"s":"g","i":10,"x":-0.142,"y":1.607},{"s":"g","i":11,"x":-0.124,"y":1.635},{"s":"g","i":12,"x":-0.103,"y":1.664},{"s":"g","i":13,"x":-0.083,"y":1.692},{"s":"g","i":14,"x":-0.062,"y":1.718},{"s":"g","i":15,"x":-0.039,"y":1.745},{"s":"g","i":16,"x":-0.017,"y":1.770},{"s":"g","i":17,"x":0.009,"y":1.794},{"s":"g","i":18,"x":0.035,"y":1.816},{"s":"g","i":19,"x":0.063,"y":1.836},{"s":"g","i":20,"x":0.092,"y":1.854},{"s":"g","i":21,"x":0.123,"y":1.868},{"s":"g","i":22,"x":0.156,"y":1.878},{"s":"g","i":23,"x":0.189,"y":1.884},{"s":"g","i":24,"x":0.224,"y":1.885},{"s":"g","i":25,"x":0.258,"y":1.880},{"s":"g","i":26,"x":0.290,"y":1.871},{"s":"g","i":27,"x":0.322,"y":1.857},{"s":"g","i":28,"x":0.351,"y":1.840},{"s":"g","i":29,"x":0.380,"y":1.820},
{"s":"r","i":0,"x":-0.305,"y":1.322},{"s":"r","i":1,"x":-0.290,"y":1.352},{"s":"r","i":2,"x":-0.276,"y":1.383},{"s":"r","i":3,"x":-0.261,"y":1.414},{"s":"r","i":4,"x":-0.247,"y":1.444},{"s":"r","i":5,"x":-0.231,"y":1.475},{"s":"r","i":6,"x":-0.215,"y":1.506},{"s":"r","i":7,"x":-0.199,"y":1.536},{"s":"r","i":8,"x":-0.183,"y":1.565},{"s":"r","i":9,"x":-0.165,"y":1.596},{"s":"r","i":10,"x":-0.147,"y":1.625},{"s":"r","i":11,"x":-0.129,"y":1.653},{"s":"r","i":12,"x":-0.108,"y":1.682},{"s":"r","i":13,"x":-0.088,"y":1.710},{"s":"r","i":14,"x":-0.067,"y":1.736},{"s":"r","i":15,"x":-0.044,"y":1.763},{"s":"r","i":16,"x":-0.022,"y":1.788},{"s":"r","i":17,"x":0.004,"y":1.812},{"s":"r","i":18,"x":0.030,"y":1.834},{"s":"r","i":19,"x":0.058,"y":1.854},{"s":"r","i":20,"x":0.087,"y":1.872},{"s":"r","i":21,"x":0.118,"y":1.886},{"s":"r","i":22,"x":0.151,"y":1.896},{"s":"r","i":23,"x":0.184,"y":1.902},{"s":"r","i":24,"x":0.219,"y":1.903},{"s":"r","i":25,"x":0.253,"y":1.898},{"s":"r","i":26,"x":0.285,"y":1.889},{"s":"r","i":27,"x":0.317,"y":1.876},{"s":"r","i":28,"x":0.346,"y":1.861},{"s":"r","i":29,"x":0.375,"y":1.844},
{"s":"h","i":0,"x":-0.296,"y":1.293},{"s":"h","i":1,"x":-0.281,"y":1.327},{"s":"h","i":2,"x":-0.267,"y":1.358},{"s":"h","i":3,"x":-0.252,"y":1.389},{"s":"h","i":4,"x":-0.238,"y":1.419},{"s":"h","i":5,"x":-0.222,"y":1.450},{"s":"h","i":6,"x":-0.206,"y":1.481},{"s":"h","i":7,"x":-0.190,"y":1.511},{"s":"h","i":8,"x":-0.174,"y":1.540},{"s":"h","i":9,"x":-0.156,"y":1.571},{"s":"h","i":10,"x":-0.138,"y":1.600},{"s":"h","i":11,"x":-0.120,"y":1.628},{"s":"h","i":12,"x":-0.099,"y":1.657},{"s":"h","i":13,"x":-0.079,"y":1.685},{"s":"h","i":14,"x":-0.058,"y":1.711},{"s":"h","i":15,"x":-0.035,"y":1.738},{"s":"h","i":16,"x":-0.013,"y":1.763},{"s":"h","i":17,"x":0.013,"y":1.787},{"s":"h","i":18,"x":0.039,"y":1.809},{"s":"h","i":19,"x":0.067,"y":1.829},{"s":"h","i":20,"x":0.096,"y":1.847},{"s":"h","i":21,"x":0.127,"y":1.861},{"s":"h","i":22,"x":0.160,"y":1.871},{"s":"h","i":23,"x":0.193,"y":1.877},{"s":"h","i":24,"x":0.228,"y":1.878},{"s":"h","i":25,"x":0.262,"y":1.873},{"s":"h","i":26,"x":0.294,"y":1.864},{"s":"h","i":27,"x":0.326,"y":1.850},{"s":"h","i":28,"x":0.355,"y":1.833},{"s":"h","i":29,"x":0.384,"y":1.813}
]
},
"vconcat":[
{"spacing":12,"vconcat":[
 {"spacing":14,"vconcat":[
  {"center":true,"spacing":11,"vconcat":[
   {"width":1361,"height":36,"view":{"fill":"#b3b3b3","stroke":null},
    "data":{"values":[{"a":"convex-to-concave","b":"dataset"}]},
    "layer":[
     {"mark":{"type":"text","fontSize":34,"fontStyle":"italic","align":"right","dx":76,"color":"#111"},"encoding":{"text":{"field":"a","type":"nominal"}}},
     {"mark":{"type":"text","fontSize":34,"align":"left","dx":86,"color":"#111"},"encoding":{"text":{"field":"b","type":"nominal"}}}
    ]},
   {"width":708,"height":55,"view":{"stroke":"#888","fill":"white"},
    "layer":[
     {"data":{"name":"tpl"},"mark":{"type":"line","color":"black","strokeWidth":2},"encoding":{"x":{"field":"t","type":"quantitative","scale":{"domain":[-0.2842,1.0441],"nice":false,"zero":false},"axis":null},"y":{"datum":0.727,"type":"quantitative","scale":{"domain":[0,1],"nice":false,"zero":false},"axis":null}}},
     {"data":{"name":"tpl"},"mark":{"type":"point","shape":"circle","filled":true,"color":"black","opacity":1,"size":95},"encoding":{"x":{"field":"t","type":"quantitative","scale":{"domain":[-0.2842,1.0441],"nice":false,"zero":false},"axis":null},"y":{"datum":0.727,"type":"quantitative","scale":{"domain":[0,1],"nice":false,"zero":false},"axis":null}}},
     {"data":{"values":[{}]},"mark":{"type":"rule","color":"#555","strokeWidth":1},"encoding":{"x":{"datum":0,"type":"quantitative","scale":{"domain":[-0.2842,1.0441],"nice":false,"zero":false},"axis":null},"x2":{"datum":1},"y":{"datum":0.504,"type":"quantitative","scale":{"domain":[0,1],"nice":false,"zero":false},"axis":null}}},
     {"data":{"name":"ends"},"mark":{"type":"rule","color":"#555","strokeWidth":1},"encoding":{"x":{"field":"t","type":"quantitative","scale":{"domain":[-0.2842,1.0441],"nice":false,"zero":false},"axis":null},"y":{"datum":0.504,"type":"quantitative","scale":{"domain":[0,1],"nice":false,"zero":false},"axis":null},"y2":{"datum":0.727}}},
     {"data":{"name":"ends"},"mark":{"type":"text","fontSize":17,"color":"#111"},"encoding":{"x":{"field":"t","type":"quantitative","scale":{"domain":[-0.2842,1.0441],"nice":false,"zero":false},"axis":null},"y":{"datum":0.2,"type":"quantitative","scale":{"domain":[0,1],"nice":false,"zero":false},"axis":null},"text":{"field":"t","type":"nominal"}}},
     {"data":{"values":[{"label":"1D template"}]},"mark":{"type":"text","fontSize":23,"align":"left","color":"#111"},"encoding":{"x":{"datum":-0.255,"type":"quantitative","scale":{"domain":[-0.2842,1.0441],"nice":false,"zero":false},"axis":null},"y":{"datum":0.473,"type":"quantitative","scale":{"domain":[0,1],"nice":false,"zero":false},"axis":null},"text":{"field":"label","type":"nominal"}}}
    ]}
  ]},
  {"spacing":-4,"hconcat":[
   {"width":32,"height":239,"data":{"values":[{"t":"2D reconstructions"}]},"mark":{"type":"text","angle":270,"fontSize":28,"color":"#111"},"encoding":{"text":{"field":"t","type":"nominal"}}},
   {"spacing":-0.4,"hconcat":[
   {"width":303,"height":239,"data":{"name":"A"},"title":"Input image n°3","view":{"fill":"#fcfcfc","stroke":"#777"},
    "encoding":{"x":{"field":"x","type":"quantitative","scale":{"domain":[-0.535,0.545],"nice":false,"zero":false},"axis":{"values":[-0.5,-0.4,-0.3,-0.2,-0.1,0,0.1,0.2,0.3,0.4,0.5]}},"y":{"field":"y","type":"quantitative","scale":{"domain":[1.233,2.091],"nice":false,"zero":false},"axis":{"values":[1.3,1.4,1.5,1.6,1.7,1.8,1.9,2]}},"order":{"field":"i","type":"quantitative"}},
    "layer":[
     {"transform":[{"filter":"datum.s=='g'"}],"mark":{"type":"line","color":"black","strokeWidth":3}},
     {"transform":[{"filter":"datum.s=='g'"}],"mark":{"type":"point","shape":"circle","filled":true,"color":"black","opacity":1,"size":55}},
     {"transform":[{"filter":"datum.s=='h'"}],"mark":{"type":"line","color":"#3b3bee","strokeWidth":1.5,"opacity":0.55}},
     {"transform":[{"filter":"datum.s=='h'"}],"mark":{"type":"point","shape":"cross","filled":true,"color":"#3b3bee","opacity":0.55,"size":14}},
     {"transform":[{"filter":"datum.s=='r'"}],"mark":{"type":"line","color":"#2fe09a","strokeWidth":2,"opacity":0.5}},
     {"transform":[{"filter":"datum.s=='r'"}],"mark":{"type":"point","shape":"diamond","filled":true,"color":"#33ee99","opacity":0.5,"size":55}}
    ]},
   {"width":303,"height":239,"data":{"name":"B"},"title":"Input image n°7","view":{"fill":"#fcfcfc","stroke":"#777"},
    "encoding":{"x":{"field":"x","type":"quantitative","scale":{"domain":[-0.371,0.379],"nice":false,"zero":false},"axis":{"values":[-0.3,-0.2,-0.1,0,0.1,0.2,0.3]}},"y":{"field":"y","type":"quantitative","scale":{"domain":[1.473,2.07],"nice":false,"zero":false},"axis":{"values":[1.5,1.6,1.7,1.8,1.9,2]}},"order":{"field":"i","type":"quantitative"}},
    "layer":[
     {"transform":[{"filter":"datum.s=='g'"}],"mark":{"type":"line","color":"black","strokeWidth":3}},
     {"transform":[{"filter":"datum.s=='g'"}],"mark":{"type":"point","shape":"circle","filled":true,"color":"black","opacity":1,"size":55}},
     {"transform":[{"filter":"datum.s=='h'"}],"mark":{"type":"line","color":"#3b3bee","strokeWidth":1.5,"opacity":0.55}},
     {"transform":[{"filter":"datum.s=='h'"}],"mark":{"type":"point","shape":"cross","filled":true,"color":"#3b3bee","opacity":0.55,"size":14}},
     {"transform":[{"filter":"datum.s=='r'"}],"mark":{"type":"line","color":"#2fe09a","strokeWidth":2,"opacity":0.5}},
     {"transform":[{"filter":"datum.s=='r'"}],"mark":{"type":"point","shape":"diamond","filled":true,"color":"#33ee99","opacity":0.5,"size":55}}
    ]},
   {"width":303,"height":239,"data":{"name":"C"},"title":"Input image n°9","view":{"fill":"#fcfcfc","stroke":"#777"},
    "encoding":{"x":{"field":"x","type":"quantitative","scale":{"domain":[-0.534,0.537],"nice":false,"zero":false},"axis":{"values":[-0.5,-0.4,-0.3,-0.2,-0.1,0,0.1,0.2,0.3,0.4,0.5]}},"y":{"field":"y","type":"quantitative","scale":{"domain":[1.09,1.937],"nice":false,"zero":false},"axis":{"values":[1.1,1.2,1.3,1.4,1.5,1.6,1.7,1.8,1.9]}},"order":{"field":"i","type":"quantitative"}},
    "layer":[
     {"transform":[{"filter":"datum.s=='g'"}],"mark":{"type":"line","color":"black","strokeWidth":3}},
     {"transform":[{"filter":"datum.s=='g'"}],"mark":{"type":"point","shape":"circle","filled":true,"color":"black","opacity":1,"size":55}},
     {"transform":[{"filter":"datum.s=='h'"}],"mark":{"type":"line","color":"#3b3bee","strokeWidth":1.5,"opacity":0.55}},
     {"transform":[{"filter":"datum.s=='h'"}],"mark":{"type":"point","shape":"cross","filled":true,"color":"#3b3bee","opacity":0.55,"size":14}},
     {"transform":[{"filter":"datum.s=='r'"}],"mark":{"type":"line","color":"#2fe09a","strokeWidth":2,"opacity":0.5}},
     {"transform":[{"filter":"datum.s=='r'"}],"mark":{"type":"point","shape":"diamond","filled":true,"color":"#33ee99","opacity":0.5,"size":55}}
    ]},
   {"width":303,"height":239,"data":{"name":"D"},"title":"Input image n°11","view":{"fill":"#fcfcfc","stroke":"#777"},
    "encoding":{"x":{"field":"x","type":"quantitative","scale":{"domain":[-0.556,0.56],"nice":false,"zero":false},"axis":{"values":[-0.5,0,0.5]}},"y":{"field":"y","type":"quantitative","scale":{"domain":[1.053,1.945],"nice":false,"zero":false},"axis":{"values":[1.1,1.2,1.3,1.4,1.5,1.6,1.7,1.8,1.9]}},"order":{"field":"i","type":"quantitative"}},
    "layer":[
     {"transform":[{"filter":"datum.s=='g'"}],"mark":{"type":"line","color":"black","strokeWidth":3}},
     {"transform":[{"filter":"datum.s=='g'"}],"mark":{"type":"point","shape":"circle","filled":true,"color":"black","opacity":1,"size":55}},
     {"transform":[{"filter":"datum.s=='h'"}],"mark":{"type":"line","color":"#3b3bee","strokeWidth":1.5,"opacity":0.55}},
     {"transform":[{"filter":"datum.s=='h'"}],"mark":{"type":"point","shape":"cross","filled":true,"color":"#3b3bee","opacity":0.55,"size":14}},
     {"transform":[{"filter":"datum.s=='r'"}],"mark":{"type":"line","color":"#2fe09a","strokeWidth":2,"opacity":0.5}},
     {"transform":[{"filter":"datum.s=='r'"}],"mark":{"type":"point","shape":"diamond","filled":true,"color":"#33ee99","opacity":0.5,"size":55}}
    ]}
   ]}
  ]}
 ]},
 {"spacing":20,"vconcat":[
  {"center":true,"spacing":9,"vconcat":[
   {"width":1361,"height":35,"view":{"fill":"#b3b3b3","stroke":null},
    "data":{"values":[{"a":"free-form","b":"dataset"}]},
    "layer":[
     {"mark":{"type":"text","fontSize":34,"fontStyle":"italic","align":"right","dx":12,"color":"#111"},"encoding":{"text":{"field":"a","type":"nominal"}}},
     {"mark":{"type":"text","fontSize":34,"align":"left","dx":21,"color":"#111"},"encoding":{"text":{"field":"b","type":"nominal"}}}
    ]},
   {"width":708,"height":55,"view":{"stroke":"#888","fill":"white"},
    "layer":[
     {"data":{"name":"tpl"},"mark":{"type":"line","color":"black","strokeWidth":2},"encoding":{"x":{"field":"t","type":"quantitative","scale":{"domain":[-0.2842,1.0441],"nice":false,"zero":false},"axis":null},"y":{"datum":0.727,"type":"quantitative","scale":{"domain":[0,1],"nice":false,"zero":false},"axis":null}}},
     {"data":{"name":"tpl"},"mark":{"type":"point","shape":"circle","filled":true,"color":"black","opacity":1,"size":95},"encoding":{"x":{"field":"t","type":"quantitative","scale":{"domain":[-0.2842,1.0441],"nice":false,"zero":false},"axis":null},"y":{"datum":0.727,"type":"quantitative","scale":{"domain":[0,1],"nice":false,"zero":false},"axis":null}}},
     {"data":{"values":[{}]},"mark":{"type":"rule","color":"#555","strokeWidth":1},"encoding":{"x":{"datum":0,"type":"quantitative","scale":{"domain":[-0.2842,1.0441],"nice":false,"zero":false},"axis":null},"x2":{"datum":1},"y":{"datum":0.504,"type":"quantitative","scale":{"domain":[0,1],"nice":false,"zero":false},"axis":null}}},
     {"data":{"name":"ends"},"mark":{"type":"rule","color":"#555","strokeWidth":1},"encoding":{"x":{"field":"t","type":"quantitative","scale":{"domain":[-0.2842,1.0441],"nice":false,"zero":false},"axis":null},"y":{"datum":0.504,"type":"quantitative","scale":{"domain":[0,1],"nice":false,"zero":false},"axis":null},"y2":{"datum":0.727}}},
     {"data":{"name":"ends"},"mark":{"type":"text","fontSize":17,"color":"#111"},"encoding":{"x":{"field":"t","type":"quantitative","scale":{"domain":[-0.2842,1.0441],"nice":false,"zero":false},"axis":null},"y":{"datum":0.2,"type":"quantitative","scale":{"domain":[0,1],"nice":false,"zero":false},"axis":null},"text":{"field":"t","type":"nominal"}}},
     {"data":{"values":[{"label":"1D template"}]},"mark":{"type":"text","fontSize":23,"align":"left","color":"#111"},"encoding":{"x":{"datum":-0.255,"type":"quantitative","scale":{"domain":[-0.2842,1.0441],"nice":false,"zero":false},"axis":null},"y":{"datum":0.473,"type":"quantitative","scale":{"domain":[0,1],"nice":false,"zero":false},"axis":null},"text":{"field":"label","type":"nominal"}}}
    ]}
  ]},
  {"spacing":3,"hconcat":[
   {"width":32,"height":238,"data":{"values":[{"t":"2D reconstructions"}]},"mark":{"type":"text","angle":270,"fontSize":28,"color":"#111"},"encoding":{"text":{"field":"t","type":"nominal"}}},
   {"spacing":11,"hconcat":[
   {"spacing":16,"hconcat":[
    {"width":290,"height":238,"data":{"name":"E"},"title":{"text":"Input image n°1","offset":10},"view":{"fill":"#fcfcfc","stroke":"#777"},
     "encoding":{"x":{"field":"x","type":"quantitative","scale":{"domain":[-0.644,0.493],"nice":false,"zero":false},"axis":{"values":[-0.6,-0.4,-0.2,0,0.2,0.4]}},"y":{"field":"y","type":"quantitative","scale":{"domain":[1.797,2.719],"nice":false,"zero":false},"axis":{"values":[1.8,1.9,2,2.1,2.2,2.3,2.4,2.5,2.6,2.7]}},"order":{"field":"i","type":"quantitative"}},
     "layer":[
      {"transform":[{"filter":"datum.s=='g'"}],"mark":{"type":"line","color":"black","strokeWidth":3}},
      {"transform":[{"filter":"datum.s=='g'"}],"mark":{"type":"point","shape":"circle","filled":true,"color":"black","opacity":1,"size":55}},
      {"transform":[{"filter":"datum.s=='h'"}],"mark":{"type":"line","color":"#3b3bee","strokeWidth":1.5,"opacity":0.55}},
      {"transform":[{"filter":"datum.s=='h'"}],"mark":{"type":"point","shape":"cross","filled":true,"color":"#3b3bee","opacity":0.55,"size":14}},
      {"transform":[{"filter":"datum.s=='r'"}],"mark":{"type":"line","color":"#2fe09a","strokeWidth":2,"opacity":0.5}},
      {"transform":[{"filter":"datum.s=='r'"}],"mark":{"type":"point","shape":"diamond","filled":true,"color":"#33ee99","opacity":0.5,"size":55}}
     ]},
    {"width":282,"height":238,"data":{"name":"F"},"title":{"text":"Input image n°7","offset":10},"view":{"fill":"#fcfcfc","stroke":"#777"},
     "encoding":{"x":{"field":"x","type":"quantitative","scale":{"domain":[-0.577,0.59],"nice":false,"zero":false},"axis":{"values":[-0.5,0,0.5]}},"y":{"field":"y","type":"quantitative","scale":{"domain":[1.7,2.682],"nice":false,"zero":false},"axis":{"values":[1.7,1.8,1.9,2,2.1,2.2,2.3,2.4,2.5,2.6]}},"order":{"field":"i","type":"quantitative"}},
     "layer":[
      {"transform":[{"filter":"datum.s=='g'"}],"mark":{"type":"line","color":"black","strokeWidth":3}},
      {"transform":[{"filter":"datum.s=='g'"}],"mark":{"type":"point","shape":"circle","filled":true,"color":"black","opacity":1,"size":55}},
      {"transform":[{"filter":"datum.s=='h'"}],"mark":{"type":"line","color":"#3b3bee","strokeWidth":1.5,"opacity":0.55}},
      {"transform":[{"filter":"datum.s=='h'"}],"mark":{"type":"point","shape":"cross","filled":true,"color":"#3b3bee","opacity":0.55,"size":14}},
      {"transform":[{"filter":"datum.s=='r'"}],"mark":{"type":"line","color":"#2fe09a","strokeWidth":2,"opacity":0.5}},
      {"transform":[{"filter":"datum.s=='r'"}],"mark":{"type":"point","shape":"diamond","filled":true,"color":"#33ee99","opacity":0.5,"size":55}}
     ]}
   ]},
   {"spacing":0,"hconcat":[
    {"width":302,"height":238,"data":{"name":"G"},"title":{"text":"Input image n°12","offset":10},"view":{"fill":"#fcfcfc","stroke":"#777"},
     "encoding":{"x":{"field":"x","type":"quantitative","scale":{"domain":[-0.413,0.433],"nice":false,"zero":false},"axis":{"values":[-0.4,-0.3,-0.2,-0.1,0,0.1,0.2,0.3,0.4]}},"y":{"field":"y","type":"quantitative","scale":{"domain":[1.311,1.999],"nice":false,"zero":false},"axis":{"values":[1.4,1.5,1.6,1.7,1.8,1.9]}},"order":{"field":"i","type":"quantitative"}},
     "layer":[
      {"transform":[{"filter":"datum.s=='g'"}],"mark":{"type":"line","color":"black","strokeWidth":3}},
      {"transform":[{"filter":"datum.s=='g'"}],"mark":{"type":"point","shape":"circle","filled":true,"color":"black","opacity":1,"size":55}},
      {"transform":[{"filter":"datum.s=='h'"}],"mark":{"type":"line","color":"#3b3bee","strokeWidth":1.5,"opacity":0.55}},
      {"transform":[{"filter":"datum.s=='h'"}],"mark":{"type":"point","shape":"cross","filled":true,"color":"#3b3bee","opacity":0.55,"size":14}},
      {"transform":[{"filter":"datum.s=='r'"}],"mark":{"type":"line","color":"#2fe09a","strokeWidth":2,"opacity":0.5}},
      {"transform":[{"filter":"datum.s=='r'"}],"mark":{"type":"point","shape":"diamond","filled":true,"color":"#33ee99","opacity":0.5,"size":55}}
     ]},
    {"width":304,"height":238,"data":{"name":"H"},"title":{"text":"Input image n°25","offset":10},"view":{"fill":"#fcfcfc","stroke":"#777"},
     "encoding":{"x":{"field":"x","type":"quantitative","scale":{"domain":[-0.389,0.47],"nice":false,"zero":false},"axis":{"values":[-0.3,-0.2,-0.1,0,0.1,0.2,0.3,0.4]}},"y":{"field":"y","type":"quantitative","scale":{"domain":[1.26,1.931],"nice":false,"zero":false},"axis":{"values":[1.3,1.4,1.5,1.6,1.7,1.8,1.9]}},"order":{"field":"i","type":"quantitative"}},
     "layer":[
      {"transform":[{"filter":"datum.s=='g'"}],"mark":{"type":"line","color":"black","strokeWidth":3}},
      {"transform":[{"filter":"datum.s=='g'"}],"mark":{"type":"point","shape":"circle","filled":true,"color":"black","opacity":1,"size":55}},
      {"transform":[{"filter":"datum.s=='h'"}],"mark":{"type":"line","color":"#3b3bee","strokeWidth":1.5,"opacity":0.55}},
      {"transform":[{"filter":"datum.s=='h'"}],"mark":{"type":"point","shape":"cross","filled":true,"color":"#3b3bee","opacity":0.55,"size":14}},
      {"transform":[{"filter":"datum.s=='r'"}],"mark":{"type":"line","color":"#2fe09a","strokeWidth":2,"opacity":0.5}},
      {"transform":[{"filter":"datum.s=='r'"}],"mark":{"type":"point","shape":"diamond","filled":true,"color":"#33ee99","opacity":0.5,"size":55}}
     ]}
   ]}
   ]}
  ]}
 ]}
]},
{"width":715,"height":33,"view":{"stroke":"#111","strokeWidth":1.3,"fill":"white"},
 "data":{"values":[{"s":"Ground-truth"},{"s":"2DHMM"},{"s":"2DHMM+REF"}]},
 "encoding":{"x":{"field":"s","type":"nominal","sort":null,"scale":{"type":"point","domain":["Ground-truth","2DHMM","2DHMM+REF"],"range":[70,521],"padding":0},"axis":null}},
 "layer":[
  {"transform":[{"filter":"datum.s=='Ground-truth'"}],"mark":{"type":"tick","orient":"horizontal","size":80,"thickness":7,"color":"black","opacity":1}},
  {"transform":[{"filter":"datum.s=='2DHMM'"}],"mark":{"type":"tick","orient":"horizontal","size":82,"thickness":3,"color":"#1f1fd6","opacity":1}},
  {"transform":[{"filter":"datum.s=='2DHMM+REF'"}],"mark":{"type":"tick","orient":"horizontal","size":82,"thickness":3,"color":"#2ef0a0","opacity":1}},
  {"transform":[{"filter":"datum.s=='Ground-truth'"}],"mark":{"type":"point","shape":"circle","filled":true,"color":"black","opacity":1,"size":480}},
  {"transform":[{"filter":"datum.s=='2DHMM'"}],"mark":{"type":"tick","orient":"vertical","size":22,"thickness":3,"color":"#1f1fd6","opacity":1}},
  {"transform":[{"filter":"datum.s=='2DHMM+REF'"}],"mark":{"type":"point","shape":"diamond","filled":true,"fill":"#d8fff0","stroke":"#2ef0a0","strokeWidth":2,"opacity":1,"size":260}},
  {"transform":[{"filter":"datum.s=='Ground-truth'"}],"mark":{"type":"text","fontSize":20,"align":"left","dx":48,"color":"#111"},"encoding":{"text":{"field":"s","type":"nominal"}}},
  {"transform":[{"filter":"datum.s=='2DHMM'"}],"mark":{"type":"text","fontSize":20,"fontWeight":"bold","align":"left","dx":48,"color":"#111"},"encoding":{"text":{"field":"s","type":"nominal"}}},
  {"transform":[{"filter":"datum.s=='2DHMM+REF'"}],"mark":{"type":"text","fontSize":20,"fontWeight":"bold","align":"left","dx":52,"color":"#111"},"encoding":{"text":{"field":"s","type":"nominal"}}}
 ]}
]
}
